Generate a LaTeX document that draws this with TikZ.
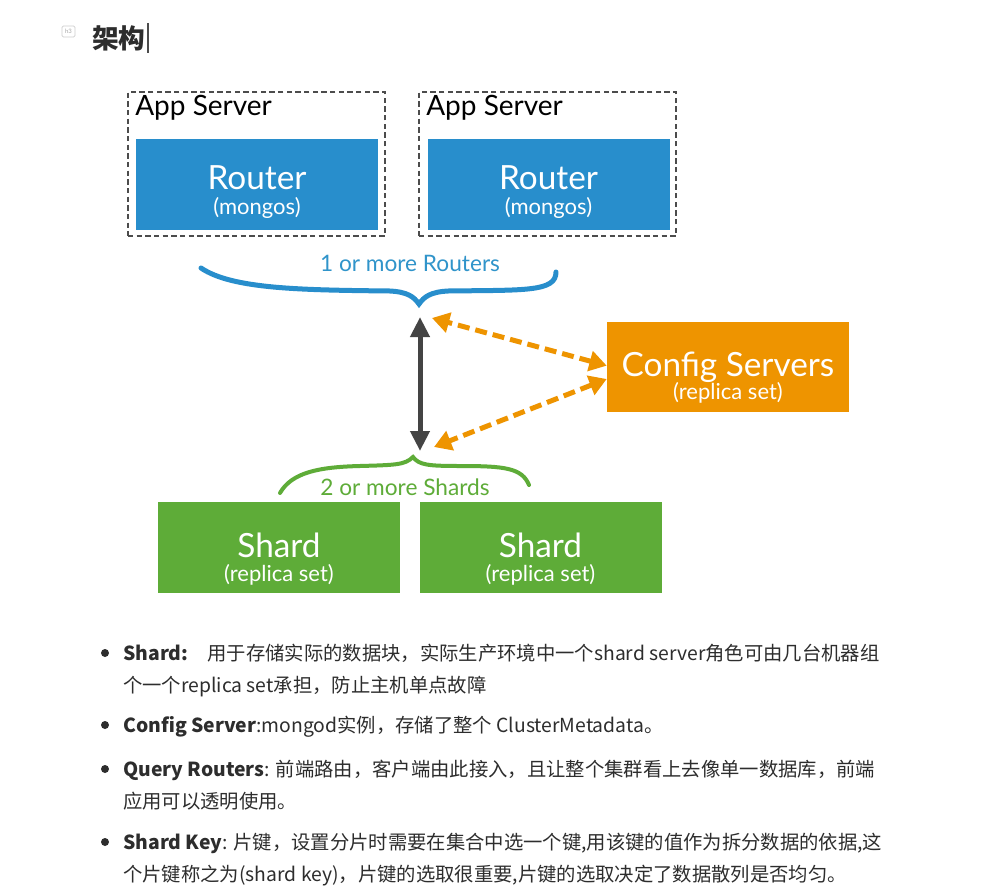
\documentclass[tikz,border=0pt]{standalone}
\usepackage{fontspec}
\setmainfont{Lato}
\newfontfamily\cjk{Noto Sans CJK SC}
\usetikzlibrary{positioning, arrows.meta}
\definecolor{mblue}{RGB}{40,142,204}
\definecolor{mbluetext}{RGB}{48,148,202}
\definecolor{morange}{RGB}{238,148,0}
\definecolor{mgreen}{RGB}{94,172,56}
\definecolor{mdark}{RGB}{68,68,68}
\definecolor{mtext}{RGB}{45,45,45}

\begin{document}
\begin{tikzpicture}[x=0.75pt,y=-0.75pt,
    appbox/.style={draw=black!70,dash pattern=on 4pt off 2.5pt,line width=1.5pt,
      minimum width=192.75pt,minimum height=108pt,inner sep=0},
    box/.style={inner sep=0,minimum width=181.5pt,minimum height=68.25pt},
    big/.style={text=white,inner sep=0,font=\fontsize{25}{30}\selectfont},
    small/.style={text=white,inner sep=0,font=\fontsize{16.5}{20}\selectfont},
    brlabel/.style={inner sep=0,font=\fontsize{17}{20}\selectfont},
    oarr/.style={morange,line width=3.75pt,dash pattern=on 9pt off 4.5pt,
      {Triangle[length=13pt,width=15pt]}-{Triangle[length=13pt,width=15pt]}},
    darr/.style={mdark,line width=3.75pt,
      {Triangle[length=15pt,width=14pt]}-{Triangle[length=15pt,width=14pt]}},
    txt/.style={anchor=base west,inner sep=0,text=mtext,font=\cjk\fontsize{14.5}{24}\selectfont},
    dot/.style={circle,fill=mtext,inner sep=0,minimum size=6pt}]
  \fill[white] (0,0) rectangle (990,889);
  \useasboundingbox (0,0) rectangle (990,889);

  % heading
  \node[draw=black!20,rounded corners=1pt,line width=0.6pt,minimum width=9.75pt,minimum height=8.25pt,
    inner sep=0,text=black!35,font=\fontsize{4.5}{5}\selectfont] (hicon) at (68.5,31.5) {h3};
  \node[anchor=west,inner sep=0,text=mtext,font=\cjk\bfseries\fontsize{20}{24}\selectfont] (title) at (92,38) {架构};
  \draw[black!70,line width=0.8pt] (148,23) -- (148,53);

  % app servers with routers
  \node[appbox] (app1) at (256.5,164) {};
  \node[appbox] (app2) at (547.5,164) {};
  \node[anchor=west,inner sep=0,font=\fontsize{21}{25}\selectfont] (app1l) at (135,108) {App Server};
  \node[anchor=west,inner sep=0,font=\fontsize{21}{25}\selectfont] (app2l) at (426,108) {App Server};
  \node[box,fill=mblue] (router1) at (257,184.5) {};
  \node[box,fill=mblue] (router2) at (548.5,184.5) {};
  \node[big] (r1a) at (257,178) {Router};
  \node[small] (r1b) at (257,208) {(mongos)};
  \node[big] (r2a) at (548.5,178) {Router};
  \node[small] (r2b) at (548.5,208) {(mongos)};

  % braces
  \draw[mblue,line width=3.75pt,line cap=round] (201,268) .. controls (232,289) and (300,290) .. (390,291)
    .. controls (408,292) and (414,297) .. (419,304) .. controls (424,297) and (430,292) .. (448,291)
    .. controls (525,290) and (556,292) .. (556,272);
  \node[brlabel,text=mbluetext] (rlabel) at (410,263) {1 or more Routers};
  \coordinate (rtip) at (419,304);
  \draw[mgreen,line width=3pt,line cap=round] (280,493) .. controls (292,472) and (320,467) .. (360,466)
    .. controls (395,465) and (405,465) .. (413,457) .. controls (419,465) and (428,466) .. (460,466)
    .. controls (505,466) and (522,468) .. (529,485);
  \node[brlabel,text=mgreen] (slabel) at (405,487) {2 or more Shards};
  \coordinate (stip) at (413,457);

  % config servers
  \node[box,fill=morange,minimum height=67.5pt] (config) at (728,367) {};
  \node[big] (c1) at (728,367) {Config Servers};
  \node[small] (c2) at (728,393) {(replica set)};

  % shards
  \node[box,fill=mgreen] (shard1) at (279,547.5) {};
  \node[box,fill=mgreen] (shard2) at (540.5,547.5) {};
  \node[big] (s1a) at (279,545) {Shard};
  \node[small] (s1b) at (279,575) {(replica set)};
  \node[big] (s2a) at (540.5,545) {Shard};
  \node[small] (s2b) at (540.5,575) {(replica set)};

  % arrows
  \coordinate (up) at (420,317);
  \coordinate (dn) at (420,451);
  \draw[darr] (up) -- (dn);
  \coordinate (otop) at (432,318);
  \coordinate (obot) at (434,447);
  \draw[oarr] ([yshift=1pt]config.west) -- (otop);
  \draw[oarr] ([yshift=-9pt]config.west) -- (obot);

  % notes
  \node[dot] (d1) at (105,653) {};
  \node[dot] (d2) at (105,725) {};
  \node[dot] (d3) at (105,769) {};
  \node[dot] (d4) at (105,842) {};
  \node[txt] (b1a) at (123,660) {\textbf{Shard:}\quad 用于存储实际的数据块，实际生产环境中一个shard server角色可由几台机器组};
  \node[txt] (b1b) at ([yshift=-24pt]b1a.base west) {个一个replica set承担，防止主机单点故障};
  \node[txt] (b2a) at (123,732) {\textbf{Config Server}:mongod实例，存储了整个 ClusterMetadata。};
  \node[txt] (b3a) at (123,776) {\textbf{Query Routers}: 前端路由，客户端由此接入，且让整个集群看上去像单一数据库，前端};
  \node[txt] (b3b) at ([yshift=-24pt]b3a.base west) {应用可以透明使用。};
  \node[txt] (b4a) at (123,849) {\textbf{Shard Key}: 片键，设置分片时需要在集合中选一个键,用该键的值作为拆分数据的依据,这};
  \node[txt] (b4b) at ([yshift=-24pt]b4a.base west) {个片键称之为(shard key)，片键的选取很重要,片键的选取决定了数据散列是否均匀。};
\end{tikzpicture}
\end{document}
